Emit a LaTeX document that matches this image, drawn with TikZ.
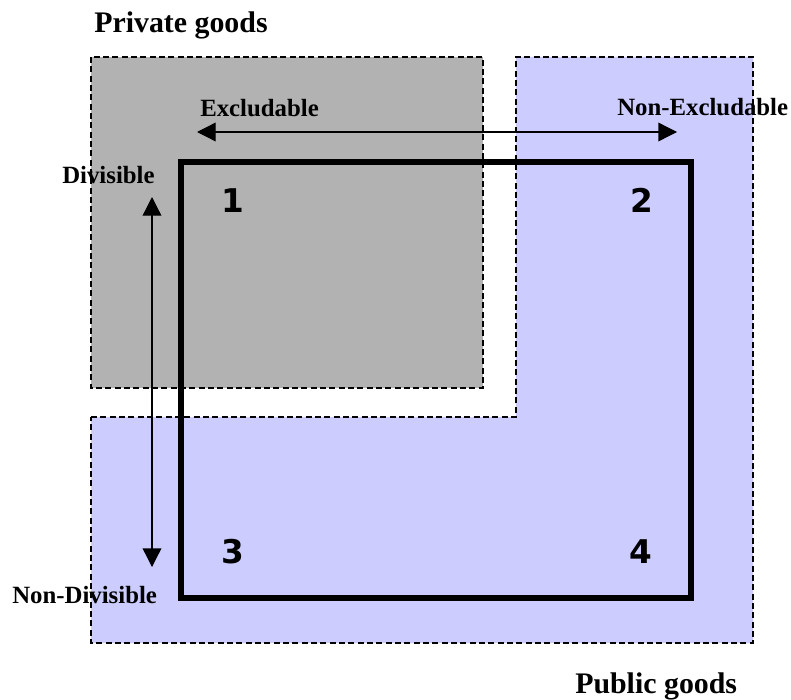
\documentclass[tikz,border=0pt]{standalone}
\usepackage{fontspec}
\setmainfont{Liberation Serif}
\newfontfamily\digitfont{DejaVu Sans}
\usetikzlibrary{arrows.meta,positioning}
\definecolor{privgray}{HTML}{B2B2B2}
\definecolor{publav}{HTML}{CCCCFF}
\tikzset{
  region/.style={draw=black,dash pattern=on 4.5pt off 2.5pt,line width=0.9pt},
  frame/.style={draw=black,line width=4.5pt},
  title/.style={font=\fontsize{22.4}{26}\selectfont\bfseries,inner sep=0pt,anchor=base west},
  axislabel/.style={font=\fontsize{18.6}{21}\selectfont\bfseries,inner sep=0pt,anchor=base west},
  cellnum/.style={font=\digitfont\fontsize{24.5}{28}\selectfont\bfseries,inner sep=0pt,anchor=base},
  arr/.style={{Triangle[length=14pt,width=14pt]}-{Triangle[length=14pt,width=14pt]},line width=1pt},
}

\begin{document}
\begin{tikzpicture}[x=0.75pt,y=-0.75pt]
  \useasboundingbox (0,0) rectangle (791,699);
  % the two kinds of goods
  \path[region,fill=privgray] (91,57) rectangle (483,388);
  \path[region,fill=publav] (91,417) -- (516,417) -- (516,57) -- (753,57) -- (753,643) -- (91,643) -- cycle;
  % the four cells
  \path[frame] (181,162) rectangle (691,598);
  \node[cellnum] (q1) at (233,212) {1};
  \node[cellnum] (q2) at (642,212) {2};
  \node[cellnum] (q3) at (233,563) {3};
  \node[cellnum] (q4) at (641,563) {4};
  % axes
  \coordinate (exl) at (197,132);
  \coordinate (exr) at (677,132);
  \coordinate (dvt) at (152,197);
  \coordinate (dvb) at (152,567);
  \draw[arr] (exl) -- (exr);
  \draw[arr] (dvt) -- (dvb);
  \node[axislabel] (excl) at (200,116) {Excludable};
  \node[axislabel] (nexcl) at (617,115) {Non-Excludable};
  \node[axislabel] (div) at (62,183) {Divisible};
  \node[axislabel] (ndiv) at (12,603) {Non-Divisible};
  \node[title] (priv) at (94,33) {Private goods};
  \node[title] (pub) at (575,693) {Public goods};
\end{tikzpicture}
\end{document}
